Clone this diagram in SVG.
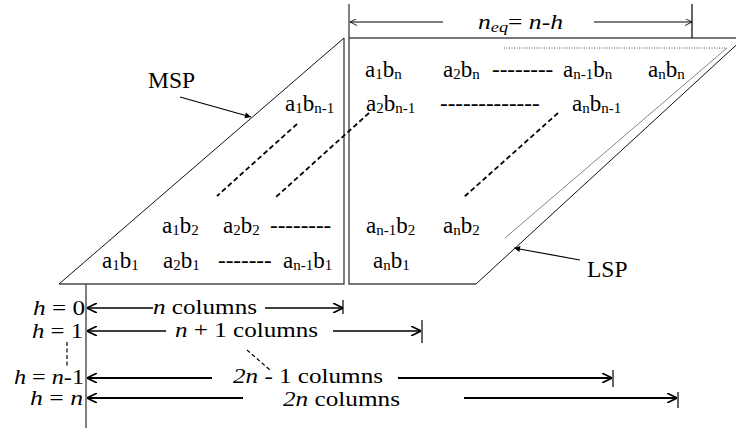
<svg xmlns="http://www.w3.org/2000/svg" width="736" height="428" viewBox="0 0 736 428">
<style>
text{font-family:"Liberation Serif","Times New Roman",serif;fill:#000}
.m{font-size:23px}
.s{font-size:15px}
.lab{font-size:23.5px}
.dim{font-size:20px}
.i{font-style:italic}
.frame{fill:none;stroke:#4a4a4a;stroke-width:1.4}
.diag{fill:none;stroke:#111;stroke-width:1}
.dsh{fill:none;stroke:#000;stroke-width:1.8;stroke-dasharray:5 3}
.arr{fill:none;stroke:#000;stroke-width:1.5}
.arr2{fill:none;stroke:#000;stroke-width:2}
.tick{stroke:#000;stroke-width:1.2}
</style>
<defs>
<marker id="open" viewBox="0 0 10 10" refX="10" refY="5" markerUnits="userSpaceOnUse" markerWidth="10" markerHeight="10" orient="auto-start-reverse">
<path d="M0,0 L10,5 L0,10" fill="none" stroke="#000" stroke-width="1.6"/>
</marker>
<marker id="openS" viewBox="0 0 10 10" refX="10" refY="5" markerUnits="userSpaceOnUse" markerWidth="8" markerHeight="7" orient="auto-start-reverse">
<path d="M0,0 L10,5 L0,10" fill="none" stroke="#000" stroke-width="1.2"/>
</marker>
<marker id="fill" viewBox="0 0 10 10" refX="10" refY="5" markerUnits="userSpaceOnUse" markerWidth="10" markerHeight="6" orient="auto">
<path d="M0,0 L10,5 L0,10 Z" fill="#000"/>
</marker>
</defs>

<g id="msp">
<path class="frame" d="M344,38 L344,284 L59,284"/>
<path class="diag" d="M59,284 L344,38"/>
</g>

<g id="lsp">
<path class="frame" d="M349,4 L349,284 L476,284"/>
<path class="frame" d="M349,38 L736,38"/>
<path class="diag" d="M476,284 L745,37"/>
<path fill="none" stroke="#222" stroke-width="0.8" stroke-dasharray="1 1.5" d="M504,48 L727,48"/>
<path fill="none" stroke="#666" stroke-width="0.8" d="M727,48 L505,238"/>
</g>

<g id="cells">
<text class="m" x="365" y="77">a<tspan class="s" dy="2">1</tspan><tspan dy="-2">b</tspan><tspan class="s" dy="2">n</tspan></text>
<text class="m" x="443" y="77">a<tspan class="s" dy="2">2</tspan><tspan dy="-2">b</tspan><tspan class="s" dy="2">n</tspan></text>
<text class="m" x="492" y="77">--------</text>
<text class="m" x="563" y="77">a<tspan class="s" dy="2">n-1</tspan><tspan dy="-2">b</tspan><tspan class="s" dy="2">n</tspan></text>
<text class="m" x="648" y="77">a<tspan class="s" dy="2">n</tspan><tspan dy="-2">b</tspan><tspan class="s" dy="2">n</tspan></text>

<text class="m" x="285" y="111">a<tspan class="s" dy="2">1</tspan><tspan dy="-2">b</tspan><tspan class="s" dy="2">n-1</tspan></text>
<text class="m" x="366" y="111">a<tspan class="s" dy="2">2</tspan><tspan dy="-2">b</tspan><tspan class="s" dy="2">n-1</tspan></text>
<text class="m" x="440" y="111">-------------</text>
<text class="m" x="572" y="111">a<tspan class="s" dy="2">n</tspan><tspan dy="-2">b</tspan><tspan class="s" dy="2">n-1</tspan></text>

<text class="m" x="162" y="233">a<tspan class="s" dy="2">1</tspan><tspan dy="-2">b</tspan><tspan class="s" dy="2">2</tspan></text>
<text class="m" x="223" y="233">a<tspan class="s" dy="2">2</tspan><tspan dy="-2">b</tspan><tspan class="s" dy="2">2</tspan></text>
<text class="m" x="270" y="233">--------</text>
<text class="m" x="366" y="233">a<tspan class="s" dy="2">n-1</tspan><tspan dy="-2">b</tspan><tspan class="s" dy="2">2</tspan></text>
<text class="m" x="443" y="233">a<tspan class="s" dy="2">n</tspan><tspan dy="-2">b</tspan><tspan class="s" dy="2">2</tspan></text>

<text class="m" x="102" y="268">a<tspan class="s" dy="2">1</tspan><tspan dy="-2">b</tspan><tspan class="s" dy="2">1</tspan></text>
<text class="m" x="163" y="268">a<tspan class="s" dy="2">2</tspan><tspan dy="-2">b</tspan><tspan class="s" dy="2">1</tspan></text>
<text class="m" x="218" y="268">-------</text>
<text class="m" x="283" y="268">a<tspan class="s" dy="2">n-1</tspan><tspan dy="-2">b</tspan><tspan class="s" dy="2">1</tspan></text>
<text class="m" x="373" y="268">a<tspan class="s" dy="2">n</tspan><tspan dy="-2">b</tspan><tspan class="s" dy="2">1</tspan></text>
</g>

<g id="labels">
<text class="lab" x="148" y="88">MSP</text>
<text class="lab" x="587" y="277">LSP</text>
<text class="i" x="478" y="29" font-size="21" textLength="85" lengthAdjust="spacingAndGlyphs">n<tspan font-size="15" dy="3">eq</tspan><tspan dy="-3" font-style="normal">= </tspan>n-h</text>
</g>

<g id="h-labels">
<text class="dim" x="85" y="315" text-anchor="end" textLength="52" lengthAdjust="spacingAndGlyphs"><tspan class="i">h</tspan> = 0</text>
<text class="dim" x="83" y="338" text-anchor="end" textLength="51" lengthAdjust="spacingAndGlyphs"><tspan class="i">h</tspan> = 1</text>
<text class="dim" x="84" y="384" text-anchor="end" textLength="70" lengthAdjust="spacingAndGlyphs"><tspan class="i">h</tspan> = <tspan class="i">n</tspan>-1</text>
<text class="dim" x="83" y="405" text-anchor="end" textLength="53" lengthAdjust="spacingAndGlyphs"><tspan class="i">h</tspan> = <tspan class="i">n</tspan></text>
</g>

<g id="col-labels">
<text class="dim" x="153" y="314" textLength="104" lengthAdjust="spacingAndGlyphs"><tspan class="i">n</tspan> columns</text>
<text class="dim" x="175" y="337" textLength="143" lengthAdjust="spacingAndGlyphs"><tspan class="i">n</tspan> + 1 columns</text>
<text class="dim" x="233" y="383" textLength="150" lengthAdjust="spacingAndGlyphs"><tspan class="i">2n</tspan> - 1 columns</text>
<text class="dim" x="283" y="406" textLength="117" lengthAdjust="spacingAndGlyphs"><tspan class="i">2n</tspan> columns</text>
</g>

<g id="connectors">
<path class="dsh" d="M297,124 L217,196"/>
<path class="dsh" d="M369,113 L276,197"/>
<path class="dsh" d="M558,113 L464,197"/>
<path fill="none" stroke="#000" stroke-width="1.2" marker-end="url(#fill)" d="M180,97 L251,117"/>
<path fill="none" stroke="#000" stroke-width="1.2" marker-end="url(#fill)" d="M580,260 L514,248"/>
<path class="frame" d="M86,284 L86,428"/>
<path class="tick" d="M692,4 L692,38"/>
<path fill="none" stroke="#000" stroke-width="1.2" marker-start="url(#openS)" d="M350,22 L443,22"/>
<path fill="none" stroke="#000" stroke-width="1.2" marker-end="url(#openS)" d="M594,22 L692,22"/>
<path class="arr" marker-start="url(#open)" d="M87,308 L153,308"/>
<path class="arr" marker-end="url(#open)" d="M265,308 L343,308"/>
<path class="tick" d="M343,300 L343,314"/>
<path class="arr" marker-start="url(#open)" d="M87,331 L166,331"/>
<path class="arr" marker-end="url(#open)" d="M333,331 L421,331"/>
<path class="tick" d="M422,320 L422,343"/>
<path class="arr2" marker-start="url(#open)" d="M87,378 L212,378"/>
<path class="arr2" marker-end="url(#open)" d="M398,378 L612,378"/>
<path class="tick" d="M613,370 L613,387"/>
<path class="arr2" marker-start="url(#open)" d="M87,398 L243,398"/>
<path class="arr2" marker-end="url(#open)" d="M464,398 L677,398"/>
<path class="tick" d="M678,392 L678,408"/>
<path fill="none" stroke="#000" stroke-width="1.2" stroke-dasharray="4 2.5" d="M67,342 L67,368"/>
<path fill="none" stroke="#000" stroke-width="1.2" stroke-dasharray="4 2.5" d="M247,350 L270,370"/>
</g>
</svg>
